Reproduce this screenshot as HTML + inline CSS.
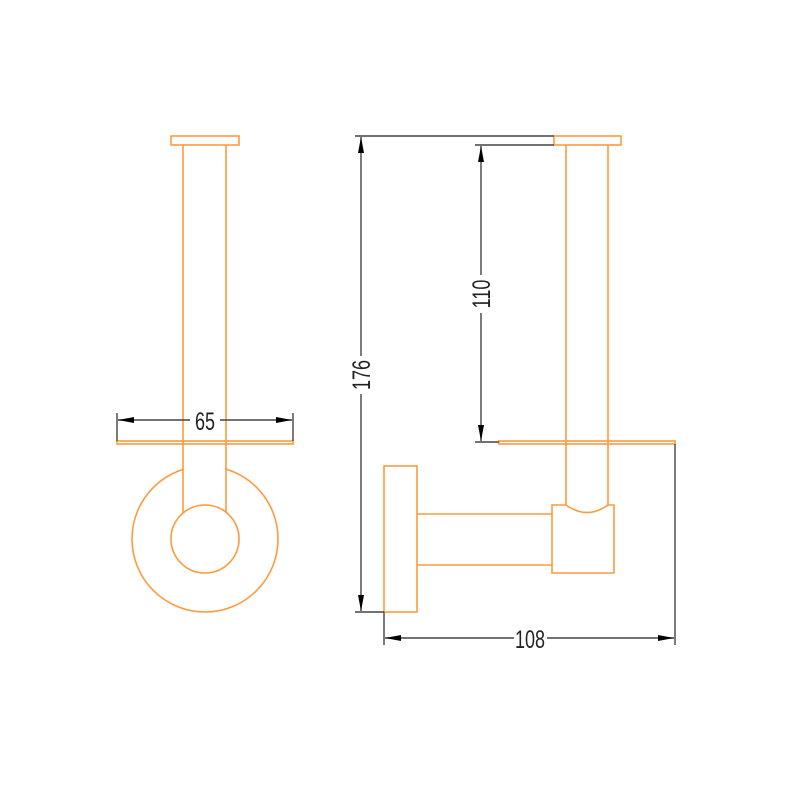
<!DOCTYPE html>
<html><head><meta charset="utf-8"><style>
html,body{margin:0;padding:0;background:#fff;}
svg{display:block}
text{font-family:"Liberation Sans",sans-serif;font-size:25px;fill:#222}
</style></head><body>
<svg width="800" height="800" viewBox="0 0 800 800" xmlns="http://www.w3.org/2000/svg">
<defs>
<marker id="a" viewBox="0 0 16 6" refX="16" refY="3" markerWidth="16" markerHeight="6" markerUnits="userSpaceOnUse" orient="auto-start-reverse"><path d="M0,0 L16,3 L0,6 Z" fill="#000"/></marker>
</defs>
<g fill="none" stroke="#ff9a3c" stroke-width="1.6">
<rect x="171" y="136" width="68" height="9"/>
<line x1="183" y1="145" x2="183" y2="513"/>
<line x1="226" y1="145" x2="226" y2="513"/>
<rect x="117" y="441" width="176" height="3"/>
<circle cx="205" cy="539" r="73"/>
<rect x="184" y="460" width="41" height="40" fill="#fff" stroke="none"/>
<circle cx="205" cy="539" r="34" fill="#fff"/>
<rect x="554" y="136" width="67" height="9"/>
<line x1="566" y1="145" x2="566" y2="505"/>
<line x1="608" y1="145" x2="608" y2="505"/>
<rect x="499" y="441" width="176" height="3"/>
<rect x="384" y="466" width="33" height="146"/>
<line x1="417" y1="514" x2="552" y2="514"/>
<line x1="417" y1="565" x2="552" y2="565"/>
<path d="M552,505 H566 Q587,520 608,505 H614 V573 H552 Z"/>
</g>
<g stroke="#444" stroke-width="1.4" fill="none">
<line x1="117" y1="413" x2="117" y2="441"/>
<line x1="293" y1="413" x2="293" y2="441"/>
<line x1="118" y1="420" x2="292" y2="420" marker-start="url(#a)" marker-end="url(#a)"/>
<line x1="355" y1="136" x2="554" y2="136"/>
<line x1="355" y1="612" x2="384" y2="612"/>
<line x1="361" y1="137" x2="361" y2="611" marker-start="url(#a)" marker-end="url(#a)"/>
<line x1="475" y1="145" x2="554" y2="145"/>
<line x1="475" y1="442" x2="499" y2="442"/>
<line x1="481" y1="146" x2="481" y2="441" marker-start="url(#a)" marker-end="url(#a)"/>
<line x1="384" y1="612" x2="384" y2="645"/>
<line x1="675" y1="444" x2="675" y2="645"/>
<line x1="385" y1="638" x2="674" y2="638" marker-start="url(#a)" marker-end="url(#a)"/>
</g>
<g>
<rect x="190" y="407" width="30" height="26" fill="#fff"/>
<text transform="translate(205,430) scale(0.72,1)" text-anchor="middle">65</text>
<rect x="514" y="625" width="33" height="26" fill="#fff"/>
<text transform="translate(530,648) scale(0.72,1)" text-anchor="middle">108</text>
<rect x="349" y="356" width="26" height="38" fill="#fff"/>
<text transform="translate(370,375) rotate(-90) scale(0.72,1)" text-anchor="middle">176</text>
<rect x="469" y="275" width="26" height="38" fill="#fff"/>
<text transform="translate(490,294) rotate(-90) scale(0.72,1)" text-anchor="middle">110</text>
</g>
</svg>
</body></html>
